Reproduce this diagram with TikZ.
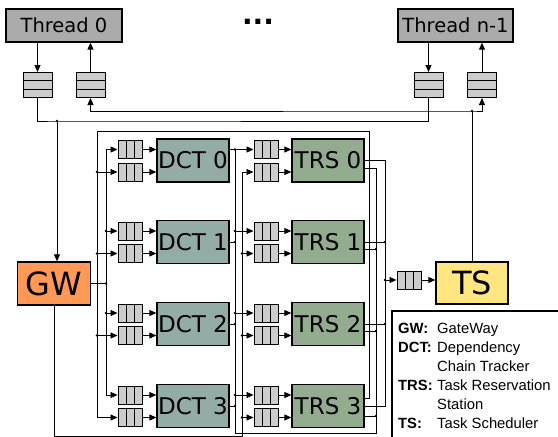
\documentclass[tikz,border=0pt]{standalone}
\usepackage{fontspec}
\setmainfont{DejaVu Sans}
\newfontfamily\legendfont{Liberation Sans}
\usetikzlibrary{arrows.meta}
\definecolor{threadgray}{RGB}{171,171,171}
\definecolor{fifogray}{RGB}{204,204,204}
\definecolor{gwcolor}{RGB}{255,153,85}
\definecolor{tscolor}{RGB}{255,230,128}
\definecolor{dctcolor}{RGB}{147,172,165}
\definecolor{trscolor}{RGB}{147,172,143}
\newcommand\jdot[1]{\fill (#1) circle (1.4);}

\begin{document}
\begin{tikzpicture}[x=1pt,y=-1pt,
  >={Triangle[length=7pt,width=6pt]},
  wire/.style={line width=0.9pt},
  block/.style={draw, line width=1.3pt, inner sep=0pt},
  thread/.style={block, fill=threadgray, minimum width=116pt, minimum height=33pt,
    font=\fontsize{19.5}{20}\selectfont},
  unit/.style={block, minimum width=72pt, minimum height=43pt,
    font=\fontsize{23}{24}\selectfont},
  big/.style={block, minimum width=72pt, minimum height=43pt,
    font=\fontsize{32}{34}\selectfont},
  tqueue/.style={draw, line width=1pt, fill=fifogray, minimum width=29pt,
    minimum height=25pt, inner sep=0pt,
    path picture={\foreach \k in {1,2}
      \draw[line width=1pt] ([yshift={\k*25/3}]path picture bounding box.south west)
        -- ([yshift={\k*25/3}]path picture bounding box.south east);}},
  queue/.style={draw, line width=1pt, fill=fifogray, minimum width=24pt,
    minimum height=18pt, inner sep=0pt,
    path picture={\foreach \k in {1,2}
      \draw[line width=1pt] ([xshift={\k*8}]path picture bounding box.south west)
        -- ([xshift={\k*8}]path picture bounding box.north west);}}]
\useasboundingbox (0,0) rectangle (558,437);

% threads and their queues
\node[thread] (th0) at (64,25.5) {Thread 0};
\node[thread, minimum width=115pt] (thn) at (455.5,25.5) {Thread n-1};
\node (dots) at (258,22) {\fontsize{28}{28}\selectfont\bfseries ...};
\node[tqueue] (q0a) at (37.5,85) {};
\node[tqueue] (q0b) at (90.5,85) {};
\node[tqueue] (qna) at (428.5,85) {};
\node[tqueue] (qnb) at (482,85) {};

% gateway, scheduler
\node[big, fill=gwcolor, minimum width=73pt] (gw) at (54,283.5) {GW};
\node[big, fill=tscolor, minimum height=42pt] (ts) at (472,283) {TS};
\node[queue] (tsq) at (409,280) {};

% DCTs and TRSs
\foreach \i/\y in {0/160.5,1/242,2/324,3/406} {
  \node[unit, fill=dctcolor] (dct\i) at (193,\y) {DCT \i};
  \node[unit, fill=trscolor] (trs\i) at (328,\y) {TRS \i};
  \node[queue] (dqa\i) at (130,\y-11) {};
  \node[queue] (dqb\i) at (130,\y+11.5) {};
  \node[queue] (tqa\i) at (266,\y-11) {};
  \node[queue] (tqb\i) at (266,\y+11.5) {};
  \draw[wire,->] (dqa\i.east) -- (dqa\i.east -| dct\i.west);
  \draw[wire,->] (dqb\i.east) -- (dqb\i.east -| dct\i.west);
  \draw[wire,->] (tqa\i.east) -- (tqa\i.east -| trs\i.west);
  \draw[wire,->] (tqb\i.east) -- (tqb\i.east -| trs\i.west);
}

% bus columns
\coordinate (xa) at (106,0);
\coordinate (xb) at (97,0);
\coordinate (xc) at (235,0);
\coordinate (xd) at (242,0);
\coordinate (xe) at (385,0);
\coordinate (xf) at (376,0);
\coordinate (xg) at (369,0);
\coordinate (ytop) at (0,131);
\coordinate (ybot) at (0,433);
\coordinate (ylow) at (0,436);
\coordinate (yin) at (0,121);
\coordinate (yout) at (0,111);

% threads <-> queues
\draw[wire,->] (th0.south -| q0a) -- (q0a.north);
\draw[wire,->] (q0b.north) -- (q0b.north |- th0.south);
\draw[wire,->] (thn.south -| qna) -- (qna.north);
\draw[wire,->] (qnb.north) -- (qnb.north |- thn.south);

% queues -> GW
\coordinate (gin) at (57,121);
\draw[wire] (q0a.south) |- (gin) -| (qna.south);
\draw[wire,->] (gin) -- (gin |- gw.north);
\jdot{gin}

% TS -> queues
\coordinate (tout) at (ts.north |- yout);
\draw[wire,<->] (q0b.south) |- (tout) -| (qnb.south);
\draw[wire] (tout) -- (ts.north);
\jdot{tout}

% GW -> DCT
\draw[wire] (gw.east) -- (gw.east -| xa);
\jdot{gw.east -| xa}
\draw[wire] (dqa0.west -| xa) -- (dqa3.west -| xa);
\foreach \i in {0,...,3}
  \draw[wire,->] (dqa\i.west -| xa) -- (dqa\i.west);
\jdot{dqa1.west -| xa}
\jdot{dqa2.west -| xa}

% TRS -> DCT
\draw[wire] ([yshift=8pt]trs3.east) -| (xg |- ytop) -| (dqb3.west -| xb);
\foreach \i in {0,...,3}
  \draw[wire,->] (dqb\i.west -| xb) -- (dqb\i.west);
\foreach \i in {0,1,2} {
  \jdot{dqb\i.west -| xb}
}

% DCT -> TRS
\draw[wire] (tqa0.west -| xc) -- (xc |- ybot) -| ([yshift=-7.5pt]trs0.east -| xf)
  -- ([yshift=-7.5pt]trs0.east);
\draw[wire,->] (dct0.east |- tqa0) -- (tqa0.west);
\jdot{tqa0.west -| xc}
\foreach \i in {1,2,3} {
  \draw[wire] (dct\i.east) -- (dct\i.east -| xc);
  \jdot{dct\i.east -| xc}
  \draw[wire,->] (tqa\i.west -| xc) -- (tqa\i.west);
  \jdot{tqa\i.west -| xc}
}
\foreach \i/\d in {1/7,2/7,3/10} {
  \draw[wire] ([yshift=-\d pt]trs\i.east) -- ([yshift=-\d pt]trs\i.east -| xf);
  \jdot{[yshift=-\d pt]trs\i.east -| xf}
}

% GW -> TRS
\draw[wire,->] (gw.south) |- (xd |- ylow) -- (tqb0.west -| xd) -- (tqb0.west);
\foreach \i in {1,2,3} {
  \draw[wire,->] (tqb\i.west -| xd) -- (tqb\i.west);
  \jdot{tqb\i.west -| xd}
}

% TRS -> TS
\draw[wire] (trs0.east) -| (xe |- trs3.east) -- (trs3.east);
\foreach \i in {1,2} {
  \draw[wire] (trs\i.east) -- (trs\i.east -| xe);
  \jdot{trs\i.east -| xe}
}
\draw[wire,->] (tsq.west -| xe) -- (tsq.west);
\jdot{tsq.west -| xe}
\draw[wire,->] (tsq.east) -- (tsq.east -| ts.west);

% legend
\draw[line width=1.5pt] (562,311) -- (392,311) -- (392,441);
\node[anchor=base west, inner sep=0pt, font={\legendfont\fontsize{14.8}{19}\selectfont}]
  (legend) at (398,333) {\begin{tabular}[t]{@{}p{39pt}@{}l@{}}
  \textbf{GW:} & GateWay\\
  \textbf{DCT:} & Dependency\\
   & Chain Tracker\\
  \textbf{TRS:} & Task Reservation\\
   & Station\\
  \textbf{TS:} & Task Scheduler
  \end{tabular}};
\end{tikzpicture}
\end{document}
